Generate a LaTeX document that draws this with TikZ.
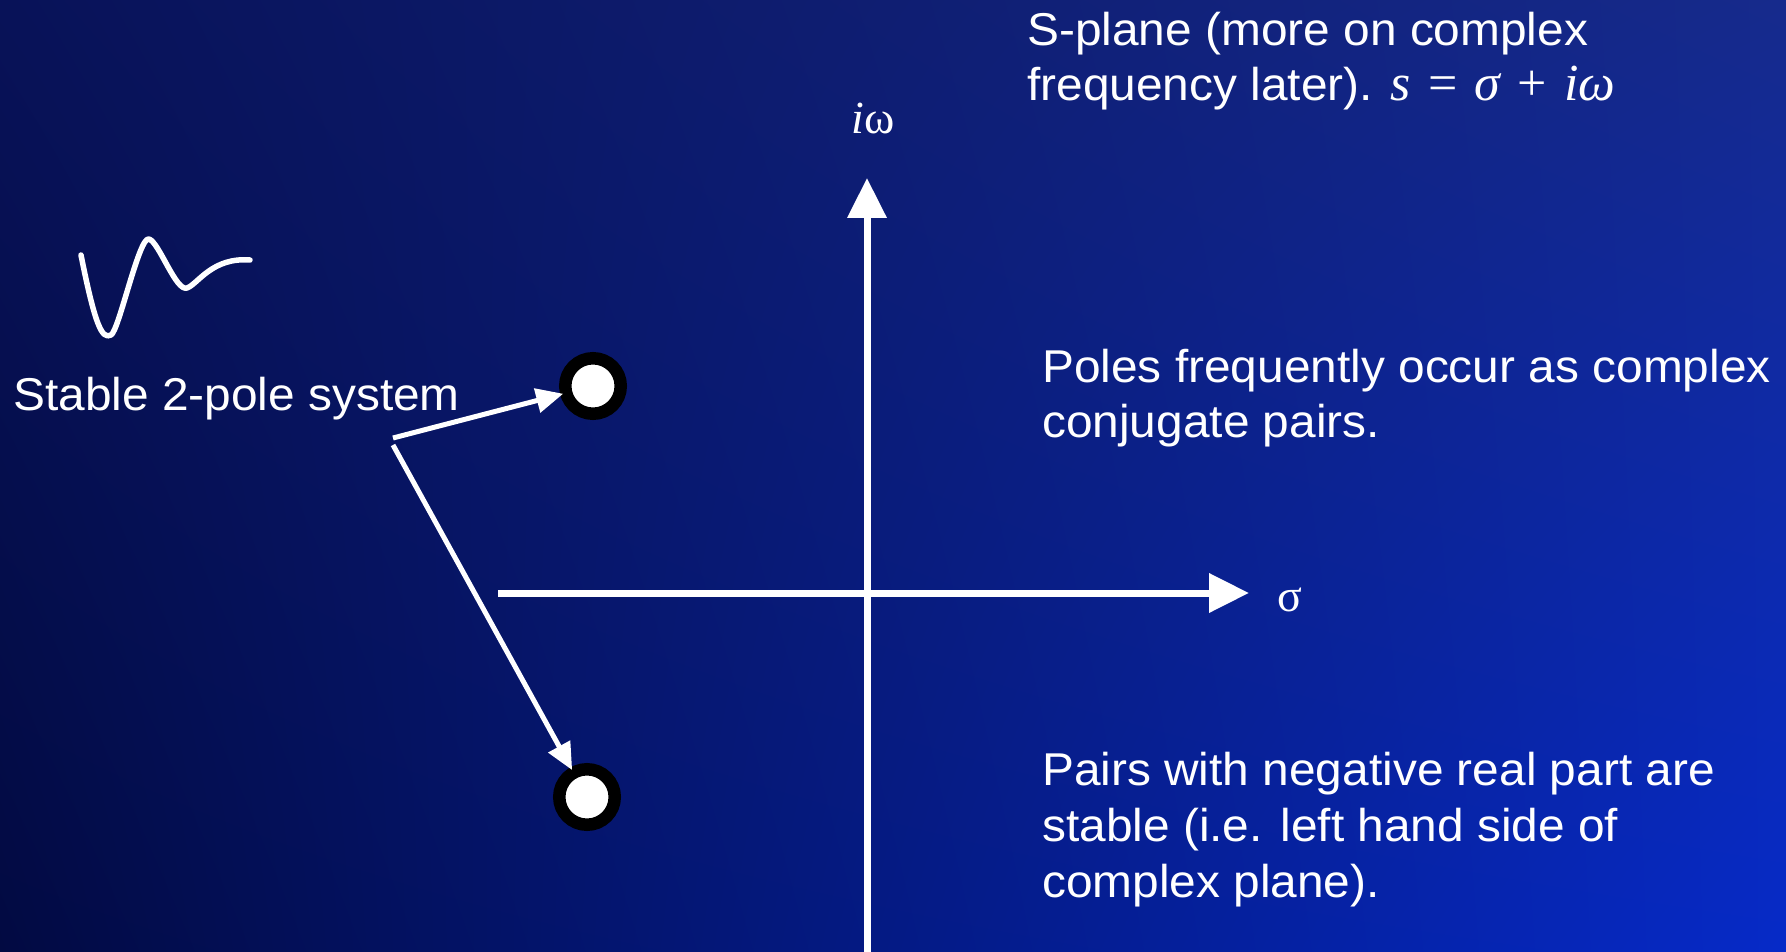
\documentclass[tikz,border=0pt]{standalone}
\usepackage{fontspec}
\setmainfont{Liberation Sans}[FakeStretch=1.04]
\newfontfamily\serif{Liberation Serif}
\usetikzlibrary{arrows.meta,shadings}
\definecolor{bgUL}{RGB}{8,18,88}
\definecolor{bgLL}{RGB}{2,10,66}
\definecolor{bgUR}{RGB}{22,42,140}
\definecolor{bgLR}{RGB}{6,42,200}
\begin{document}
\begin{tikzpicture}[x=1pt,y=-1pt,
  txt/.style={anchor=base west, inner sep=0pt, text=white, font=\fontsize{46}{54}\selectfont},
  axis/.style={white, line width=7pt, -{Triangle[length=40pt,width=38pt]}},
  ptr/.style={white, line width=5pt, -{Triangle[length=27pt,width=24pt]}},
  pole/.style={circle, fill=white, draw=black, line width=12.5pt, minimum size=55.5pt, inner sep=0pt, outer sep=3pt},
  sym/.style={text=white, inner sep=0pt, font=\serif\fontsize{46}{50}\selectfont},
  wave/.style={white, line width=5.5pt, line cap=round, line join=round}]
\shade[lower left=bgLL, upper left=bgUL, upper right=bgUR, lower right=bgLR] (0,0) rectangle (1786,952);
\useasboundingbox (0,0) rectangle (1786,952);

% axes
\coordinate (vb) at (867,952);
\coordinate (vt) at (867,178);
\coordinate (hl) at (498,593);
\coordinate (hr) at (1249,593);
\draw[axis] (vb) -- (vt);
\draw[axis] (hl) -- (hr);
\node[sym] (iw) at (873,118) {{\itshape i}ω};
\node[sym] (sig) at (1290,600) {σ};

% impulse response sketch
\draw[wave] (81,255) .. controls (95,325) and (102,340) .. (111,335)
  .. controls (119,331) and (139,236) .. (149,239)
  .. controls (159,242) and (176,292) .. (187,288)
  .. controls (198,284) and (212,257) .. (250,260);

% poles and pointers
\node[pole] (p1) at (593,386) {};
\node[pole] (p2) at (587,797) {};
\coordinate (s1) at (393,438);
\coordinate (s2) at (393,445);
\draw[ptr] (s1) -- (p1);
\draw[ptr] (s2) -- (p2);

% texts
\node[txt] (stab) at (13,410) {Stable 2-pole system};
\node[txt] (t1) at (1027,46) {S-plane (more on complex};
\node[txt] (t2) at (1027,101) {frequency later). {\serif\fontsize{52}{54}\selectfont{\itshape s}\,\,=\,\,{\itshape σ}\,\,+\,\,{\itshape iω}}};
\node[txt] (q1) at (1042,382) {Poles frequently occur as complex};
\node[txt] (q2) at (1042,437) {conjugate pairs.};
\node[txt] (r1) at (1042,785) {Pairs with negative real part are};
\node[txt] (r2) at (1042,841) {stable (i.e. left hand side of};
\node[txt] (r3) at (1042,897) {complex plane).};
\end{tikzpicture}
\end{document}
